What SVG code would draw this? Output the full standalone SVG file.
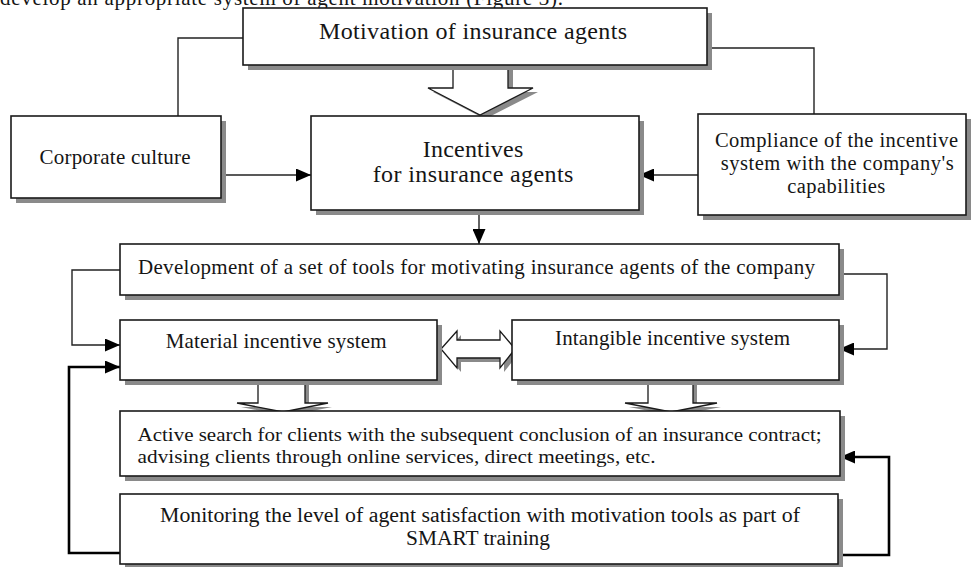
<svg xmlns="http://www.w3.org/2000/svg" width="972" height="567" viewBox="0 0 972 567">
<defs>
<marker id="ah" markerUnits="userSpaceOnUse" markerWidth="15" markerHeight="13" refX="15" refY="6.5" orient="auto">
<path d="M0,0 L15,6.5 L0,13 z" fill="#000"/>
</marker>
<style>
.box{fill:#fff;stroke:#1a1a1a;stroke-width:1.6}
.sh{fill:#8a8a8a}
.t{font-family:"Liberation Serif","Times New Roman",serif;fill:#151515}
.ln{fill:none;stroke:#222;stroke-width:1.4}
.thick{fill:none;stroke:#000;stroke-width:2.6}
.blk{fill:#fff;stroke:#1a1a1a;stroke-width:1.3}
.bsh{fill:#8a8a8a}
</style>
</defs>
<rect width="972" height="567" fill="#fff"/>
<text class="t" x="0" y="5" style="font-size:21px" textLength="563" lengthAdjust="spacing">develop an appropriate system of agent motivation (Figure 3).</text>

<g id="blockArrows">
<path class="bsh" d="M458,70 V92 H433 L485,119 L538,92 H513 V70 z"/>
<path class="blk" d="M453,66 V88 H428 L480,115 L533,88 H508 V66"/>
<polygon class="bsh" points="445,353 461,335 461,344 504,344 504,335 519,353 504,372 504,362 461,362 461,372"/>
<polygon class="blk" points="441,349 457,331 457,340 500,340 500,331 515,349 500,368 500,358 457,358 457,368"/>
<path class="bsh" d="M262,384 V407 H241 L287,416 L332,407 H309 V384 z"/>
<path class="blk" d="M258,380 V403 H237 L283,412 L328,403 H305 V380"/>
<path class="bsh" d="M652,384 V407 H629 L675,416 L721,407 H697 V384 z"/>
<path class="blk" d="M648,380 V403 H625 L671,412 L717,403 H693 V380"/>
</g>

<g id="connectors">
<polyline class="ln" points="243,38 178,38 178,116"/>
<polyline class="ln" points="707,48 814,48 814,114"/>
<line class="ln" x1="221" y1="175" x2="311" y2="175" marker-end="url(#ah)"/>
<line class="ln" x1="698" y1="175" x2="639" y2="175" marker-end="url(#ah)"/>
<line class="ln" x1="479" y1="212" x2="479" y2="244" marker-end="url(#ah)"/>
<polyline class="ln" points="120,270 72,270 72,345 120,345" marker-end="url(#ah)"/>
<polyline class="ln" points="839,274 887,274 887,349 839,349" marker-end="url(#ah)"/>
<polyline class="thick" points="120,553 69,553 69,367 120,367" marker-end="url(#ah)"/>
<polyline class="thick" points="838,555 889,555 889,457 840,457" marker-end="url(#ah)"/>
</g>

<g id="top">
<rect class="sh" x="248" y="13" width="464" height="57"/>
<rect class="box" x="243" y="8" width="464" height="57"/>
<text class="t" x="319" y="39" style="font-size:24px" textLength="308" lengthAdjust="spacing">Motivation of insurance agents</text>
</g>
<g id="corp">
<rect class="sh" x="16" y="121" width="210" height="82"/>
<rect class="box" x="11" y="116" width="210" height="82"/>
<text class="t" x="39.5" y="164" style="font-size:21px" textLength="151" lengthAdjust="spacing">Corporate culture</text>
</g>
<g id="incentives">
<rect class="sh" x="316" y="121" width="328" height="94"/>
<rect class="box" x="311" y="116" width="328" height="94"/>
<text class="t" x="422.7" y="157" style="font-size:24px" textLength="100.6" lengthAdjust="spacing">Incentives</text>
<text class="t" x="372.7" y="182" style="font-size:24px" textLength="200.6" lengthAdjust="spacing">for insurance agents</text>
</g>
<g id="compliance">
<rect class="sh" x="703" y="119" width="268" height="101"/>
<rect class="box" x="698" y="114" width="268" height="101"/>
<text class="t" x="715" y="147" style="font-size:20.5px" textLength="243" lengthAdjust="spacing">Compliance of the incentive</text>
<text class="t" x="720.7" y="170" style="font-size:20.5px" textLength="233" lengthAdjust="spacing">system with the company's</text>
<text class="t" x="787.3" y="193" style="font-size:20.5px" textLength="98" lengthAdjust="spacing">capabilities</text>
</g>
<g id="development">
<rect class="sh" x="125" y="249" width="719" height="51"/>
<rect class="box" x="120" y="244" width="719" height="51"/>
<text class="t" x="138" y="274" style="font-size:21px" textLength="677" lengthAdjust="spacing">Development of a set of tools for motivating insurance agents of the company</text>
</g>
<g id="material">
<rect class="sh" x="125" y="325" width="317" height="60"/>
<rect class="box" x="120" y="320" width="317" height="60"/>
<text class="t" x="165.7" y="348" style="font-size:21px" textLength="221" lengthAdjust="spacing">Material incentive system</text>
</g>
<g id="intangible">
<rect class="sh" x="517" y="325" width="327" height="60"/>
<rect class="box" x="512" y="320" width="327" height="60"/>
<text class="t" x="555" y="345" style="font-size:21px" textLength="235" lengthAdjust="spacing">Intangible incentive system</text>
</g>
<g id="active">
<rect class="sh" x="125" y="416" width="720" height="65"/>
<rect class="box" x="120" y="411" width="720" height="65"/>
<text class="t" x="137.6" y="441" style="font-size:19.5px" textLength="684" lengthAdjust="spacingAndGlyphs">Active search for clients with  the subsequent conclusion of an insurance contract;</text>
<text class="t" x="137.6" y="463" style="font-size:19.5px" textLength="518" lengthAdjust="spacingAndGlyphs">advising clients  through online services,  direct meetings, etc.</text>
</g>
<g id="monitoring">
<rect class="sh" x="125" y="499" width="718" height="70"/>
<rect class="box" x="120" y="494" width="718" height="70"/>
<text class="t" x="160" y="522" style="font-size:20px" textLength="640" lengthAdjust="spacingAndGlyphs">Monitoring the level of agent satisfaction with motivation tools as part of</text>
<text class="t" x="406" y="545" style="font-size:20px" textLength="144" lengthAdjust="spacingAndGlyphs">SMART training</text>
</g>
</svg>
